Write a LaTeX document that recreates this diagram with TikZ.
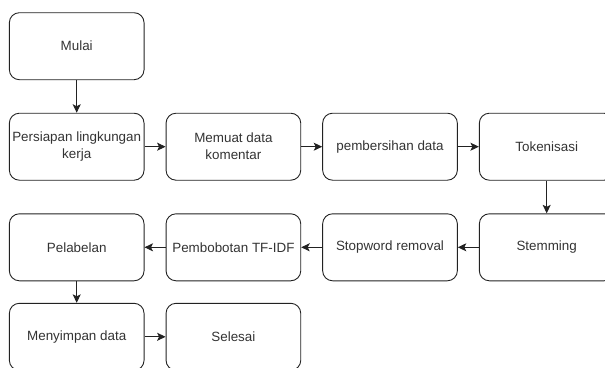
\documentclass[tikz,border=0pt]{standalone}
\usepackage{fontspec}
\setmainfont{Liberation Sans}
\usetikzlibrary{arrows.meta}
\definecolor{lc}{HTML}{222222}
\definecolor{tc}{HTML}{333333}
\tikzset{
  stepbox/.style={draw=lc, line width=0.9pt, rounded corners=10pt, minimum width=134.7pt, minimum height=67pt, inner sep=0pt, align=center, text=tc, font=\fontsize{13.4}{17}\selectfont},
  conn/.style={draw=lc, line width=0.9pt, -{Stealth[length=8.5pt,width=8pt,inset=2pt]}}
}
\begin{document}
\begin{tikzpicture}[x=1pt,y=-1pt]
\useasboundingbox (0,0) rectangle (605,367);
\clip (0,0) rectangle (605,367);
\node[stepbox] (mulai) at (76.7,46.2) {Mulai};
\node[stepbox] (persiapan) at (76.7,146.7) {Persiapan lingkungan\\kerja};
\node[stepbox] (memuat) at (233.4,146.7) {Memuat data\\komentar};
\node[stepbox] (bersih) at (390,146.7) {pembersihan data};
\node[stepbox] (token) at (546.7,146.7) {Tokenisasi};
\node[stepbox] (stem) at (546.7,247.3) {Stemming};
\node[stepbox] (stop) at (390,247.3) {Stopword removal};
\node[stepbox] (tfidf) at (233.4,247.3) {Pembobotan TF-IDF};
\node[stepbox] (label) at (76.7,247.3) {Pelabelan};
\node[stepbox] (simpan) at (76.7,336.8) {Menyimpan data};
\node[stepbox] (selesai) at (233.4,336.8) {Selesai};
\draw[conn] (mulai) -- (persiapan);
\draw[conn] (persiapan) -- (memuat);
\draw[conn] (memuat) -- (bersih);
\draw[conn] (bersih) -- (token);
\draw[conn] (token) -- (stem);
\draw[conn] (stem) -- (stop);
\draw[conn] (stop) -- (tfidf);
\draw[conn] (tfidf) -- (label);
\draw[conn] (label) -- (simpan);
\draw[conn] (simpan) -- (selesai);
\end{tikzpicture}
\end{document}
